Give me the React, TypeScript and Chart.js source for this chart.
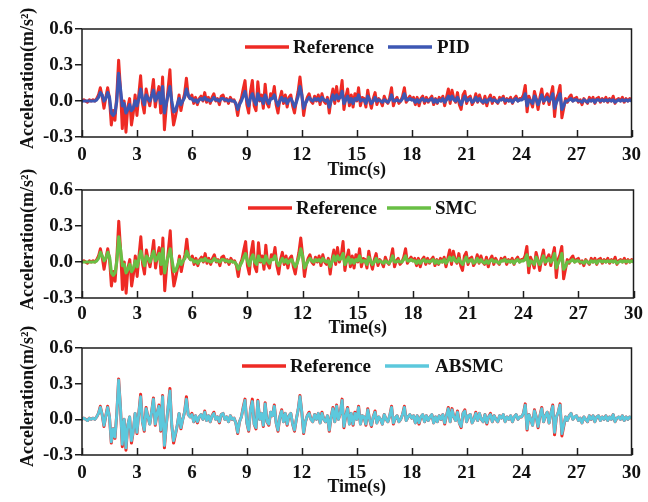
import React, { useEffect, useRef } from "react";
import { Chart, registerables } from "chart.js";

Chart.register(...registerables);

// ---------------- data ----------------
const TIME_STEP = 0.1; // s, sampling of the digitised records (0 … 30 s)
const X_MIN = 0;
const X_MAX = 30;
const X_STEP = 3;
const Y_MIN = -0.3;
const Y_MAX = 0.6;
const Y_STEP = 0.3;

const SERIES_NAMES = ["Reference", "PID", "SMC", "ABSMC"];
const X_TITLES = ["Timc(s)", "Time(s)", "Time(s)"];
const Y_TITLE = "Acceleration(m/s\u00B2)";

// one row = one second (10 samples)
const reference = [
  0, 0.01, 0, -0.01, 0.01, 0, 0.01, 0.0, 0.02, 0.05,
  0.11, 0.04, -0.06, 0.03, 0.11, 0.02, -0.2, -0.08, -0.16, 0.05,
  0.34, 0.1, -0.23, 0.0, -0.26, -0.05, 0.02, -0.2, -0.1, 0.05,
  -0.12, 0.05, 0.21, -0.02, -0.1, 0.1, 0.02, -0.04, 0.06, 0.18,
  -0.05, 0.05, 0.12, -0.1, 0.2, -0.24, -0.05, 0.1, 0.26, -0.05,
  -0.2, -0.13, -0.05, 0.05, -0.08, 0.0, 0.06, 0.19, 0.04, 0.02,
  0.05, -0.02, 0.03, -0.03, 0.02, 0.04, 0.0, 0.07, -0.01, 0.03,
  -0.02, 0.03, 0.06, 0.0, 0.02, -0.03, 0.04, 0.05, 0.0, 0.02,
  -0.02, 0.03, 0.0, 0.01, -0.03, -0.12, -0.02, 0.02, 0.1, 0.17,
  -0.03, -0.1, 0.08, 0.17, -0.04, -0.08, 0.16, 0.0, 0.05, -0.06,
  0.14, -0.02, -0.05, 0.06, 0.03, 0.12, -0.03, -0.1, 0.02, 0.08,
  -0.02, 0.05, -0.05, 0.03, 0.05, -0.04, -0.1, 0.0, 0.08, 0.2,
  0.06, -0.12, -0.02, 0.03, 0.06, 0.0, -0.02, 0.04, 0.0, 0.05,
  -0.03, 0.06, 0.0, -0.02, 0.03, -0.1, 0.02, 0.1, -0.02, 0.12,
  0.0, 0.05, 0.17, -0.07, 0.03, 0.1, -0.04, 0.05, -0.05, 0.06,
  0.0, 0.11, -0.04, 0.03, 0.02, -0.05, 0.09, 0.0, -0.06, 0.02,
  0.07, -0.03, 0.02, 0.0, -0.04, 0.04, 0.0, -0.02, 0.03, 0.11,
  -0.04, 0.01, 0.03, -0.02, 0.0, 0.04, 0.11, -0.01, 0.02, 0.04,
  0.01, 0.03, -0.03, 0.03, -0.04, 0.02, 0.04, -0.02, 0.03, -0.01,
  0.02, 0.04, -0.03, 0.02, -0.02, 0.03, 0.0, 0.04, -0.04, 0.03,
  0.1, -0.02, 0.09, 0.02, -0.01, 0.07, -0.03, -0.07, 0.05, 0.08,
  -0.02, 0.03, 0.04, -0.03, 0.0, 0.06, -0.01, 0.05, 0.0, -0.02,
  0.04, -0.04, 0.02, 0.05, -0.02, 0.03, 0.0, -0.02, 0.03, 0.01,
  0.04, -0.02, 0.02, 0.0, 0.03, -0.02, 0.02, 0.04, 0.0, 0.02,
  0.02, 0.05, 0.13, -0.09, 0.04, 0.0, -0.05, 0.08, 0.02, -0.07,
  0.03, 0.1, -0.02, 0.03, 0.06, -0.03, 0.05, 0.12, -0.13, 0.02,
  0.06, 0.13, -0.14, -0.06, 0.02, -0.01, 0.03, 0.05, 0.0, 0.02,
  0.03, -0.01, 0.01, -0.03, 0.02, 0.0, -0.02, 0.03, 0.0, 0.03,
  -0.02, 0.02, 0.03, -0.01, 0.02, 0.0, 0.03, -0.01, 0.02, 0.0,
  0.04, -0.02, 0.01, 0.02, 0.0, 0.03, -0.01, 0.02, 0.0, 0.02,
  0.01,
];

const pid = [
  0, 0, 0, 0, 0, 0, 0, 0.0, 0.01, 0.03,
  0.07, 0.05, 0.0, 0.02, 0.07, 0.03, -0.1, -0.12, -0.1, 0.0,
  0.23, 0.1, -0.04, -0.02, -0.1, -0.07, -0.03, -0.08, -0.06, 0.0,
  -0.04, 0.02, 0.1, 0.02, -0.03, 0.05, 0.02, 0.0, 0.04, 0.09,
  0.0, 0.03, 0.07, -0.02, 0.12, -0.1, -0.02, 0.05, 0.12, 0.0,
  -0.09, -0.08, -0.03, 0.02, -0.03, 0.0, 0.03, 0.1, 0.05, 0.02,
  0.02, 0.0, 0.01, -0.01, 0.01, 0.02, 0.01, 0.03, 0.01, 0.01,
  0.0, 0.01, 0.03, 0.01, 0.01, 0.0, 0.02, 0.02, 0.01, 0.01,
  0.0, 0.01, 0.0, 0.0, -0.02, -0.07, -0.03, 0.0, 0.04, 0.08,
  0.01, -0.04, 0.03, 0.06, 0.0, -0.03, 0.06, 0.01, 0.02, -0.02,
  0.05, 0.01, -0.02, 0.02, 0.02, 0.05, 0.0, -0.04, 0.0, 0.03,
  0.0, 0.02, -0.02, 0.01, 0.02, -0.01, -0.05, -0.01, 0.04, 0.12,
  0.05, -0.06, -0.02, 0.01, 0.03, 0.01, 0.0, 0.02, 0.01, 0.02,
  0.0, 0.03, 0.01, 0.0, 0.01, -0.05, 0.0, 0.05, 0.01, 0.05,
  0.02, 0.03, 0.08, -0.02, 0.01, 0.04, -0.01, 0.02, -0.02, 0.02,
  0.01, 0.05, 0.0, 0.01, 0.01, -0.02, 0.04, 0.01, -0.02, 0.0,
  0.03, 0.0, 0.01, 0.0, -0.01, 0.01, 0.0, -0.01, 0.01, 0.05,
  0.0, 0.0, 0.01, 0.0, 0.0, 0.02, 0.06, 0.01, 0.01, 0.02,
  0.01, 0.01, -0.01, 0.01, -0.01, 0.01, 0.02, 0.0, 0.01, 0.0,
  0.01, 0.02, -0.01, 0.01, -0.01, 0.01, 0.0, 0.02, -0.01, 0.01,
  0.04, 0.01, 0.04, 0.01, 0.0, 0.03, 0.0, -0.03, 0.01, 0.04,
  0.0, 0.01, 0.02, -0.01, 0.0, 0.03, 0.0, 0.02, 0.0, -0.01,
  0.01, -0.01, 0.01, 0.02, 0.0, 0.01, 0.0, -0.01, 0.01, 0.01,
  0.02, 0.0, 0.01, 0.0, 0.01, -0.01, 0.01, 0.02, 0.0, 0.01,
  0.01, 0.02, 0.06, -0.04, 0.01, 0.0, -0.02, 0.04, 0.01, -0.03,
  0.01, 0.05, 0.0, 0.01, 0.03, 0.0, 0.02, 0.06, -0.06, -0.01,
  0.02, 0.06, -0.07, -0.04, 0.0, 0.0, 0.01, 0.02, 0.0, 0.01,
  0.01, 0.0, 0.0, -0.01, 0.01, 0.0, -0.01, 0.01, 0.0, 0.01,
  -0.01, 0.01, 0.01, 0.0, 0.01, 0.0, 0.01, 0.0, 0.01, 0.0,
  0.01, -0.01, 0.0, 0.01, 0.0, 0.01, 0.0, 0.01, 0.0, 0.01,
  0.0,
];

const smc = [
  0, 0, 0, 0, 0, 0, 0, 0.0, 0.01, 0.03,
  0.08, 0.05, 0.01, 0.03, 0.08, 0.04, -0.09, -0.11, -0.09, 0.01,
  0.21, 0.1, -0.03, -0.02, -0.09, -0.06, -0.02, -0.08, -0.05, 0.01,
  -0.04, 0.03, 0.09, 0.02, -0.03, 0.05, 0.03, 0.0, 0.05, 0.09,
  0.01, 0.03, 0.07, -0.02, 0.11, -0.09, -0.01, 0.05, 0.11, 0.01,
  -0.08, -0.07, -0.03, 0.02, -0.02, 0.01, 0.03, 0.09, 0.05, 0.02,
  0.02, 0.0, 0.01, -0.01, 0.01, 0.02, 0.01, 0.03, 0.01, 0.01,
  0.0, 0.01, 0.03, 0.01, 0.01, 0.0, 0.02, 0.02, 0.01, 0.01,
  0.0, 0.01, 0.0, 0.0, -0.02, -0.06, -0.03, 0.0, 0.04, 0.07,
  0.01, -0.03, 0.03, 0.06, 0.0, -0.02, 0.05, 0.01, 0.02, -0.01,
  0.05, 0.01, -0.01, 0.02, 0.02, 0.05, 0.0, -0.03, 0.0, 0.03,
  0.0, 0.02, -0.01, 0.01, 0.02, -0.01, -0.04, -0.01, 0.04, 0.11,
  0.05, -0.05, -0.02, 0.01, 0.03, 0.01, 0.0, 0.02, 0.01, 0.02,
  0.0, 0.03, 0.01, 0.0, 0.01, -0.04, 0.0, 0.05, 0.01, 0.05,
  0.02, 0.03, 0.07, -0.02, 0.01, 0.04, -0.01, 0.02, -0.01, 0.02,
  0.01, 0.05, 0.0, 0.01, 0.01, -0.02, 0.04, 0.01, -0.02, 0.0,
  0.03, 0.0, 0.01, 0.0, -0.01, 0.01, 0.0, -0.01, 0.01, 0.05,
  0.0, 0.0, 0.01, 0.0, 0.0, 0.02, 0.05, 0.01, 0.01, 0.02,
  0.01, 0.01, -0.01, 0.01, -0.01, 0.01, 0.02, 0.0, 0.01, 0.0,
  0.01, 0.02, -0.01, 0.01, -0.01, 0.01, 0.0, 0.02, -0.01, 0.01,
  0.04, 0.01, 0.04, 0.01, 0.0, 0.03, 0.0, -0.02, 0.01, 0.04,
  0.0, 0.01, 0.02, -0.01, 0.0, 0.03, 0.0, 0.02, 0.0, -0.01,
  0.01, -0.01, 0.01, 0.02, 0.0, 0.01, 0.0, -0.01, 0.01, 0.01,
  0.02, 0.0, 0.01, 0.0, 0.01, -0.01, 0.01, 0.02, 0.0, 0.01,
  0.01, 0.02, 0.06, -0.03, 0.01, 0.0, -0.02, 0.04, 0.01, -0.02,
  0.01, 0.05, 0.0, 0.01, 0.03, 0.0, 0.02, 0.07, -0.05, -0.01,
  0.02, 0.07, -0.06, -0.04, 0.0, 0.0, 0.01, 0.02, 0.0, 0.01,
  0.01, 0.0, 0.0, -0.01, 0.01, 0.0, -0.01, 0.01, 0.0, 0.01,
  -0.01, 0.01, 0.01, 0.0, 0.01, 0.0, 0.01, 0.0, 0.01, 0.0,
  0.01, -0.01, 0.0, 0.01, 0.0, 0.01, 0.0, 0.01, 0.0, 0.01,
  0.0,
];

const absmc = [
  0, 0.01, 0, -0.01, 0.01, 0, 0.01, 0.0, 0.02, 0.05,
  0.1, 0.04, -0.05, 0.03, 0.1, 0.02, -0.19, -0.08, -0.15, 0.05,
  0.33, 0.1, -0.21, 0.0, -0.24, -0.05, 0.02, -0.18, -0.1, 0.05,
  -0.11, 0.05, 0.19, -0.02, -0.09, 0.09, 0.02, -0.04, 0.06, 0.17,
  -0.04, 0.05, 0.11, -0.09, 0.19, -0.22, -0.05, 0.1, 0.24, -0.05,
  -0.18, -0.12, -0.05, 0.05, -0.07, 0.0, 0.06, 0.17, 0.04, 0.02,
  0.04, -0.02, 0.03, -0.02, 0.02, 0.04, 0.0, 0.06, -0.01, 0.03,
  -0.02, 0.03, 0.05, 0.0, 0.02, -0.02, 0.04, 0.05, 0.0, 0.02,
  -0.02, 0.03, 0.0, 0.01, -0.03, -0.11, -0.02, 0.02, 0.09, 0.16,
  -0.03, -0.09, 0.08, 0.15, -0.04, -0.07, 0.15, 0.0, 0.05, -0.05,
  0.13, -0.02, -0.04, 0.06, 0.03, 0.11, -0.03, -0.09, 0.02, 0.07,
  -0.02, 0.05, -0.04, 0.03, 0.05, -0.04, -0.09, 0.0, 0.08, 0.19,
  0.06, -0.11, -0.02, 0.03, 0.05, 0.0, -0.02, 0.04, 0.0, 0.05,
  -0.03, 0.05, 0.0, -0.02, 0.03, -0.09, 0.02, 0.09, -0.02, 0.11,
  0.0, 0.05, 0.16, -0.06, 0.03, 0.09, -0.04, 0.05, -0.04, 0.05,
  0.0, 0.1, -0.04, 0.03, 0.02, -0.04, 0.08, 0.0, -0.05, 0.02,
  0.06, -0.03, 0.02, 0.0, -0.04, 0.04, 0.0, -0.02, 0.03, 0.1,
  -0.03, 0.01, 0.03, -0.02, 0.0, 0.04, 0.1, -0.01, 0.02, 0.04,
  0.01, 0.03, -0.03, 0.03, -0.03, 0.02, 0.04, -0.02, 0.03, -0.01,
  0.02, 0.04, -0.03, 0.02, -0.02, 0.03, 0.0, 0.04, -0.03, 0.03,
  0.09, -0.02, 0.08, 0.02, -0.01, 0.06, -0.03, -0.06, 0.05, 0.07,
  -0.02, 0.03, 0.04, -0.03, 0.0, 0.05, -0.01, 0.05, 0.0, -0.02,
  0.04, -0.03, 0.02, 0.04, -0.02, 0.03, 0.0, -0.02, 0.03, 0.01,
  0.04, -0.02, 0.02, 0.0, 0.03, -0.02, 0.02, 0.04, 0.0, 0.02,
  0.02, 0.05, 0.12, -0.08, 0.04, 0.0, -0.05, 0.07, 0.02, -0.06,
  0.03, 0.09, -0.02, 0.03, 0.06, -0.03, 0.05, 0.11, -0.11, 0.02,
  0.06, 0.12, -0.12, -0.05, 0.02, -0.01, 0.03, 0.05, 0.0, 0.02,
  0.03, -0.01, 0.01, -0.03, 0.02, 0.0, -0.02, 0.03, 0.0, 0.03,
  -0.02, 0.02, 0.03, -0.01, 0.02, 0.0, 0.03, -0.01, 0.02, 0.0,
  0.04, -0.02, 0.01, 0.02, 0.0, 0.03, -0.01, 0.02, 0.0, 0.02,
  0.01,
];

// ---------------- styling / layout ----------------
const FONT = "'Liberation Serif', 'Times New Roman', serif";
const RED = "#ee2a24";
const COLORS = { PID: "#3d57b3", SMC: "#69bf45", ABSMC: "#5cc8dc" };
const AXIS_COLOR = "#1c1c1c";
const PLOT_LEFT = 82;
const PLOT_RIGHT = 637;
const W = 648;

type PanelCfg = {
  top: number;
  height: number;
  plotTop: number;
  plotBottom: number;
  labelPad: number;
  titlePad: number;
  xTitle: string;
  ctrl: string;
  series: number[];
  legendX: [number, number, number, number];
};

const PANELS: PanelCfg[] = [
  { top: 0, height: 182, plotTop: 29, plotBottom: 137, labelPad: 7, titlePad: 1, xTitle: X_TITLES[0], ctrl: SERIES_NAMES[1], series: pid, legendX: [245, 293, 388, 437] },
  { top: 150, height: 192, plotTop: 40, plotBottom: 148, labelPad: 5, titlePad: 3, xTitle: X_TITLES[1], ctrl: SERIES_NAMES[2], series: smc, legendX: [248, 296, 387, 435] },
  { top: 310, height: 192, plotTop: 38, plotBottom: 145, labelPad: 7, titlePad: 4, xTitle: X_TITLES[2], ctrl: SERIES_NAMES[3], series: absmc, legendX: [242, 290, 385, 435] },
];

const toPoints = (vals: number[]) => vals.map((v, i) => ({ x: +(i * TIME_STEP).toFixed(2), y: v }));

const decorPlugin = {
  id: "decor",
  afterDraw(chart: any, _args: any, opts: any) {
    const { ctx, chartArea: a, scales } = chart;
    ctx.save();
    ctx.strokeStyle = AXIS_COLOR;
    ctx.lineWidth = 1.5;
    ctx.strokeRect(a.left, a.top, a.right - a.left, a.bottom - a.top);
    const xs = scales.x;
    xs.ticks.forEach((t: any) => {
      const px = Math.round(xs.getPixelForValue(t.value)) + 0.5;
      ctx.beginPath();
      ctx.moveTo(px, a.bottom);
      ctx.lineTo(px, a.bottom - 7);
      ctx.stroke();
    });
    const ly = a.top + 18;
    ctx.font = `bold 19px ${FONT}`;
    ctx.textBaseline = "middle";
    ctx.textAlign = "left";
    opts.items.forEach((it: any) => {
      ctx.strokeStyle = it.color;
      ctx.lineWidth = 3.5;
      ctx.beginPath();
      ctx.moveTo(it.lineX, ly);
      ctx.lineTo(it.lineX + 44, ly);
      ctx.stroke();
      ctx.fillStyle = "#111";
      ctx.fillText(it.label, it.textX, ly + 1);
    });
    ctx.translate(28, a.bottom + 12);
    ctx.rotate(-Math.PI / 2);
    ctx.font = `bold 18px ${FONT}`;
    ctx.textAlign = "left";
    ctx.textBaseline = "middle";
    ctx.fillStyle = "#111";
    ctx.fillText(opts.yTitle, 0, 0);
    ctx.restore();
  },
};

function Panel({ cfg }: { cfg: PanelCfg }) {
  const ref = useRef<HTMLCanvasElement | null>(null);
  useEffect(() => {
    if (!ref.current) return;
    const ctrlColor = (COLORS as any)[cfg.ctrl];
    const isAbs = cfg.ctrl === "ABSMC";
    const lineBase = { pointRadius: 0, tension: 0, borderJoinStyle: "round", borderCapStyle: "round" };
    const chart = new Chart(ref.current, {
      type: "line",
      data: {
        datasets: [
          {
            ...lineBase,
            label: cfg.ctrl,
            data: toPoints(cfg.series),
            borderColor: ctrlColor,
            borderWidth: isAbs ? 2.8 : 3.2,
          },
          {
            ...lineBase,
            label: SERIES_NAMES[0],
            data: toPoints(reference),
            borderColor: RED,
            borderWidth: 3,
          },
        ],
      },
      options: {
        responsive: false,
        animation: false,
        events: [],
        layout: { padding: { top: cfg.plotTop, right: W - PLOT_RIGHT, bottom: 0, left: 0 } },
        plugins: {
          legend: { display: false },
          tooltip: { enabled: false },
          decor: {
            yTitle: Y_TITLE,
            items: [
              { label: SERIES_NAMES[0], color: RED, lineX: cfg.legendX[0], textX: cfg.legendX[1] },
              { label: cfg.ctrl, color: ctrlColor, lineX: cfg.legendX[2], textX: cfg.legendX[3] },
            ],
          },
        } as any,
        scales: {
          x: {
            type: "linear",
            min: X_MIN,
            max: X_MAX,
            grid: { display: false, drawTicks: false },
            border: { display: false },
            ticks: {
              stepSize: X_STEP,
              padding: cfg.labelPad,
              color: "#111",
              font: { family: FONT, size: 19, weight: "bold" },
              maxRotation: 0,
              autoSkip: false,
              callback: (v: any) => String(Math.round(Number(v))),
            },
            title: {
              display: true,
              text: cfg.xTitle,
              color: "#111",
              font: { family: FONT, size: 18, weight: "bold" },
              padding: { top: 0, bottom: cfg.titlePad },
            },
            afterFit: (s: any) => {
              s.height = cfg.height - cfg.plotBottom;
            },
          },
          y: {
            min: Y_MIN,
            max: Y_MAX,
            grid: {
              drawOnChartArea: false,
              drawTicks: true,
              tickLength: 7,
              color: AXIS_COLOR,
              lineWidth: 1.5,
            },
            border: { display: false },
            ticks: {
              stepSize: Y_STEP,
              padding: 2,
              color: "#111",
              font: { family: FONT, size: 19, weight: "bold" },
              callback: (v: any) => {
                const n = Number(v);
                return Math.abs(n) < 1e-9 ? "0.0" : n.toFixed(1);
              },
            },
            afterFit: (s: any) => {
              s.width = PLOT_LEFT;
            },
          },
        },
      } as any,
      plugins: [decorPlugin],
    });
    return () => chart.destroy();
  }, [cfg]);
  return (
    <canvas
      ref={ref}
      width={W}
      height={cfg.height}
      style={{ position: "absolute", left: 0, top: cfg.top, width: W, height: cfg.height }}
    />
  );
}

export default function App() {
  return (
    <div
      style={{
        position: "fixed",
        left: 0,
        top: 0,
        width: W,
        height: 502,
        background: "#ffffff",
        overflow: "hidden",
      }}
    >
      {PANELS.map((p, i) => (
        <Panel key={i} cfg={p} />
      ))}
    </div>
  );
}
